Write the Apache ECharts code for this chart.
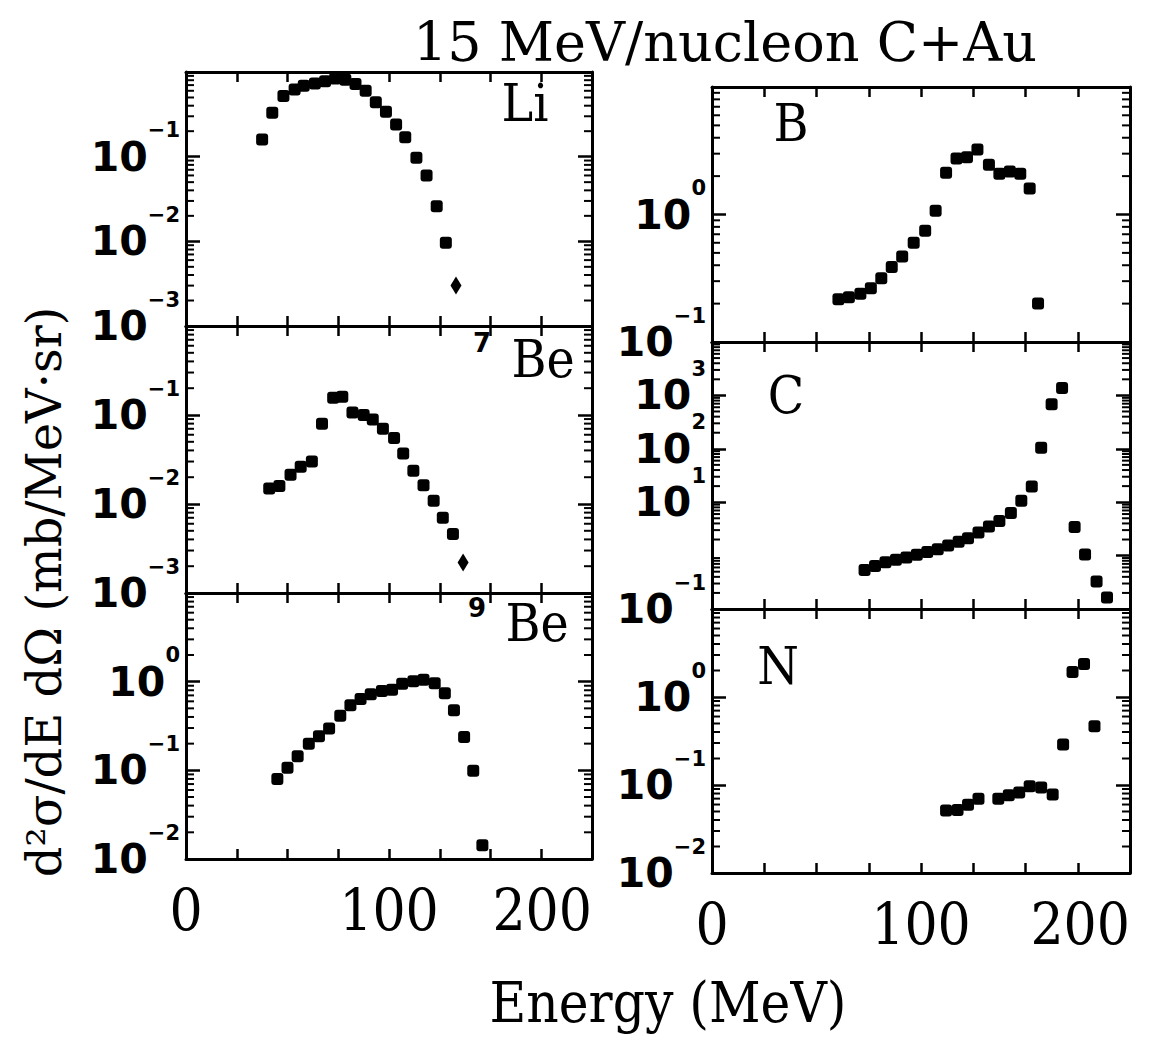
<!DOCTYPE html>
<html>
<head>
<meta charset="utf-8">
<title>15 MeV/nucleon C+Au</title>
<script src="https://cdn.jsdelivr.net/npm/echarts/dist/echarts.min.js"></script>
<style>
  html, body { margin: 0; padding: 0; background: #fff; }
  #chart { width: 1162px; height: 1039px; }
</style>
</head>
<body>
<div id="chart"></div>
<script>
// values (energy in MeV, d2sigma/dE dOmega in mb/MeV.sr)
const liEnergy = [37.5, 42.5, 48, 53.5, 58, 63.5, 68.5, 73.5, 78.5, 83.5, 88.5, 93.5, 98.5, 103.5, 108, 113.5, 118.5, 123.5, 128, 133];
const liValue = [0.16, 0.33, 0.52, 0.62, 0.69, 0.73, 0.78, 0.84, 0.81, 0.72, 0.60, 0.44, 0.34, 0.24, 0.17, 0.097, 0.060, 0.026, 0.0096, 0.0030];

const be7Energy = [41, 46, 51.5, 56.5, 62, 67, 72.5, 77, 82, 87.5, 92, 97, 102.5, 107, 112, 117, 122, 126.5, 131.5, 136.5];
const be7Value = [0.0149, 0.0159, 0.0213, 0.0262, 0.0301, 0.080, 0.156, 0.160, 0.107, 0.100, 0.089, 0.070, 0.055, 0.037, 0.0237, 0.0162, 0.0109, 0.0070, 0.0046, 0.0022];

const be9Energy = [45, 50, 55, 60.5, 65.5, 70.5, 76, 81, 86, 91, 96.5, 101.5, 106.5, 112, 117, 122.5, 127.5, 132, 137, 141.5, 146];
const be9Value = [0.080, 0.107, 0.144, 0.200, 0.243, 0.296, 0.413, 0.541, 0.638, 0.721, 0.786, 0.812, 0.95, 1.01, 1.05, 0.96, 0.74, 0.475, 0.238, 0.099, 0.0143];

const bEnergy = [60.5, 65.5, 71, 76, 81, 86, 91, 96.5, 102, 107, 112, 117, 122, 127, 132.5, 137.5, 142.5, 147.5, 152, 156];
const bValue = [0.216, 0.224, 0.239, 0.264, 0.316, 0.388, 0.468, 0.60, 0.745, 1.07, 2.13, 2.75, 2.81, 3.24, 2.46, 2.09, 2.17, 2.09, 1.60, 0.200];

const cEnergy = [73, 78, 83, 88, 93, 98, 103, 108, 113, 118, 122.5, 127.5, 132.5, 137.5, 143, 148, 153, 157.5, 162.5, 167.5, 173.5, 178.5, 184, 189];
const cValue = [0.54, 0.64, 0.75, 0.84, 0.92, 1.04, 1.17, 1.31, 1.54, 1.81, 2.12, 2.71, 3.52, 4.43, 6.27, 10.6, 19.7, 105, 684, 1370, 3.44, 1.05, 0.326, 0.165];

const nEnergy = [112, 117.5, 122.5, 127.5, 137, 142, 147, 152, 157.5, 163, 168, 172.5, 178, 183];
const nValue = [0.0514, 0.0519, 0.0596, 0.0697, 0.0696, 0.0766, 0.082, 0.0967, 0.0934, 0.0778, 0.289, 1.92, 2.37, 0.465];

// axis ranges
const energyTicks = [0, 100, 200];
const yRanges = {
  Li: [1e-3, 1], Be7: [1e-3, 1], Be9: [1e-2, 10],
  B: [1e-1, 10], C: [1e-1, 1e4], N: [1e-2, 10],
};

const panels = [
  { key: 'Li', energy: liEnergy, value: liValue, box: [186, 72, 406, 254], bottom: false, errLast: true },
  { key: 'Be7', energy: be7Energy, value: be7Value, box: [186, 326, 406, 267], bottom: false, errLast: true },
  { key: 'Be9', energy: be9Energy, value: be9Value, box: [186, 593, 406, 266], bottom: true },
  { key: 'B', energy: bEnergy, value: bValue, box: [712, 87, 418, 255], bottom: false },
  { key: 'C', energy: cEnergy, value: cValue, box: [712, 342, 418, 267], bottom: false },
  { key: 'N', energy: nEnergy, value: nValue, box: [712, 609, 418, 264], bottom: true },
];

const ink = '#000';
const frame = { show: true, onZero: false, lineStyle: { color: ink, width: 3 } };

function expLabel(v) {
  const e = Math.round(Math.log10(v));
  const s = e < 0 ? '\u2212' + (-e) : String(e);
  return '{b|10}{s|' + s + '}';
}

// tall line for "10" so the exponent can sit above it, as in the figure
const yRich = {
  b: { fontFamily: 'DejaVu Sans', fontWeight: 'bold', fontSize: 41, lineHeight: 74, color: ink },
  s: { fontFamily: 'DejaVu Sans', fontWeight: 'bold', fontSize: 21, lineHeight: 22, color: ink, verticalAlign: 'top' },
};

function minorTicks(params, api) {
  const cs = params.coordSys;
  const y = api.coord([0, api.value(1)])[1];
  const len = 8;
  const st = { stroke: ink, lineWidth: 2 };
  return {
    type: 'group',
    children: [
      { type: 'line', shape: { x1: cs.x, y1: y, x2: cs.x + len, y2: y }, style: st },
      { type: 'line', shape: { x1: cs.x + cs.width - len, y1: y, x2: cs.x + cs.width, y2: y }, style: st },
    ],
  };
}

const grid = [], xAxis = [], yAxis = [], series = [];
panels.forEach((p, i) => {
  const [lo, hi] = yRanges[p.key];
  grid.push({ left: p.box[0], top: p.box[1], width: p.box[2], height: p.box[3], outerBoundsMode: 'none' });

  const xBase = {
    type: 'value', gridIndex: i, min: 0, max: 200, interval: 25,
    axisLine: frame, splitLine: { show: false },
    axisTick: { inside: true, length: 10, lineStyle: { color: ink, width: 2.5 } },
  };
  xAxis.push(Object.assign({}, xBase, {
    position: 'bottom',
    axisLabel: {
      show: p.bottom, margin: 22, alignMaxLabel: 'right',
      fontFamily: 'DejaVu Serif Condensed', fontSize: 58, color: ink,
      formatter: v => (energyTicks.includes(v) ? String(v) : ''),
    },
  }));
  xAxis.push(Object.assign({}, xBase, { position: 'top', axisLabel: { show: false } }));

  const yBase = {
    type: 'log', logBase: 10, gridIndex: i, min: lo, max: hi,
    axisLine: frame, splitLine: { show: false }, minorTick: { show: false },
    axisTick: { inside: true, length: 14, lineStyle: { color: ink, width: 2.5 } },
  };
  yAxis.push(Object.assign({}, yBase, {
    position: 'left',
    axisLabel: { showMaxLabel: false, showMinLabel: true, hideOverlap: false, margin: 6, formatter: expLabel, rich: yRich },
  }));
  yAxis.push(Object.assign({}, yBase, { position: 'right', axisLabel: { show: false } }));

  // log minor ticks (2..9 per decade), placed through the log axis
  const minor = [];
  for (let e = Math.round(Math.log10(lo)); e < Math.round(Math.log10(hi)); e++) {
    for (let m = 2; m <= 9; m++) minor.push([0, m * Math.pow(10, e)]);
  }
  series.push({
    type: 'custom', xAxisIndex: 2 * i, yAxisIndex: 2 * i, data: minor,
    renderItem: minorTicks, silent: true, z: 1,
  });

  const pts = p.energy.map((e, k) => [e, p.value[k]]);
  series.push({
    name: p.key, type: 'scatter', xAxisIndex: 2 * i, yAxisIndex: 2 * i, data: pts,
    symbol: (v, prm) => (p.errLast && prm.dataIndex === pts.length - 1 ? 'diamond' : 'roundRect'),
    symbolSize: (v, prm) => (p.errLast && prm.dataIndex === pts.length - 1 ? [11, 18] : 12),
    itemStyle: { color: ink, opacity: 1 }, z: 3,
  });
});

const serif = 'DejaVu Serif Condensed';
function label(x, y, text, size, family, weight) {
  return {
    type: 'text', x: x, y: y, z: 10,
    style: { text: text, fill: ink, fontSize: size, fontFamily: family, fontWeight: weight || 'normal', align: 'center', verticalAlign: 'middle' },
  };
}

const option = {
  backgroundColor: '#fff',
  animation: false,
  title: {
    text: '15 MeV/nucleon C+Au', left: 720, top: 10, textAlign: 'center',
    textStyle: { fontFamily: 'DejaVu Serif', fontSize: 54, fontWeight: 'normal', color: ink },
  },
  grid: grid,
  xAxis: xAxis,
  yAxis: yAxis,
  series: series,
  graphic: [
    label(525, 102, 'Li', 53, serif),
    label(543, 358, 'Be', 53, serif),
    label(482, 343, '7', 26, 'DejaVu Sans', 'bold'),
    label(537, 622, 'Be', 53, serif),
    label(477, 608, '9', 26, 'DejaVu Sans', 'bold'),
    label(791, 122, 'B', 53, serif),
    label(786, 394, 'C', 53, serif),
    label(778, 665, 'N', 53, serif),
    label(668, 1002, 'Energy (MeV)', 56, serif),
    Object.assign(label(44, 592, 'd\u00b2\u03c3/dE d\u03a9 (mb/MeV\u00b7sr)', 48, 'DejaVu Serif'), { rotation: Math.PI / 2 }),
  ],
};

const chart = echarts.init(document.getElementById('chart'), null, { renderer: 'svg' });
chart.setOption(option);
</script>
</body>
</html>
